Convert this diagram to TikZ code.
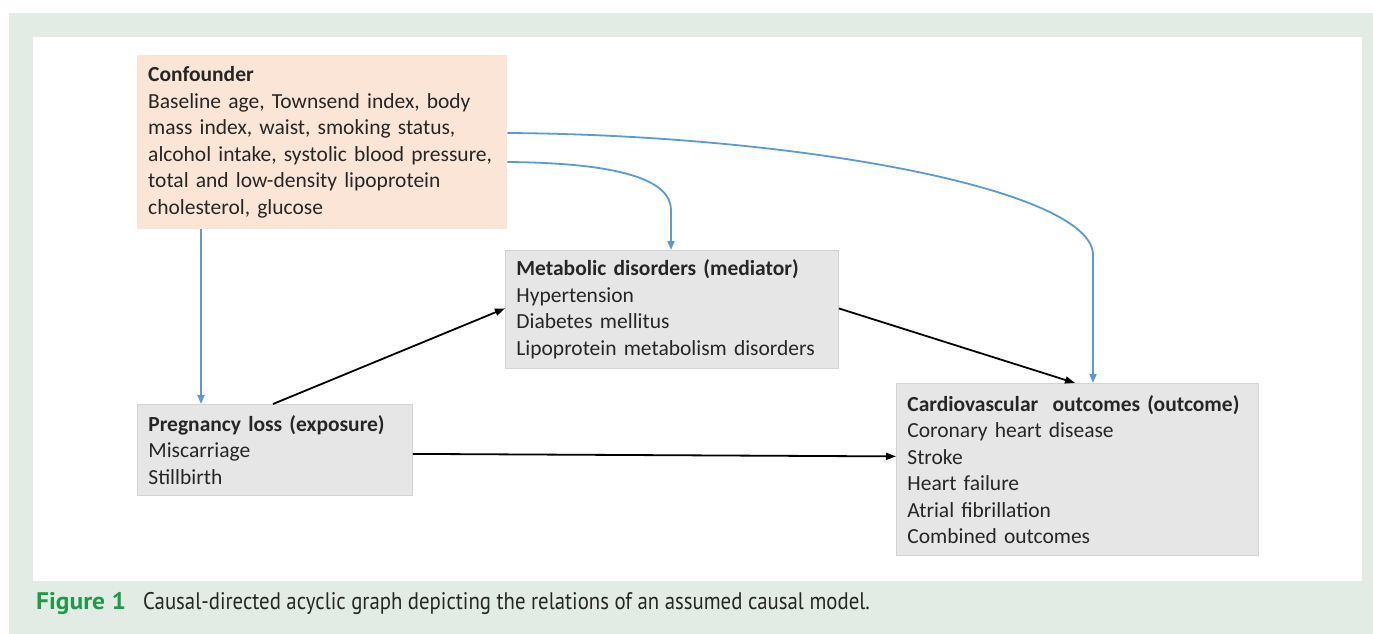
\documentclass[tikz,border=0pt]{standalone}
\usepackage{fontspec}
\setmainfont{Carlito}
\newfontfamily\capfont{PT Sans}
\usetikzlibrary{arrows.meta,calc,positioning}
\definecolor{outergreen}{HTML}{E2ECE4}
\definecolor{peach}{HTML}{FBE5D6}
\definecolor{boxgray}{HTML}{E6E6E6}
\definecolor{boxedge}{HTML}{D4D4D4}
\definecolor{arrblue}{HTML}{5B9BD5}
\definecolor{figgreen}{HTML}{1E9A4A}
\definecolor{txt}{HTML}{262626}
\tikzset{
  boxbase/.style={anchor=north west, inner xsep=11pt, inner ysep=0pt, align=left,
    font=\fontsize{21.5}{26.5}\selectfont, text=txt},
  confbox/.style={boxbase, fill=peach},
  graybox/.style={boxbase, fill=boxgray, draw=boxedge, line width=0.8pt},
  bluearr/.style={draw=arrblue, line width=1.8pt, -{Triangle[length=9pt,width=7pt]}},
  blackarr/.style={draw=black, line width=1.8pt, -{Triangle[length=10pt,width=7pt]}},
}
\begin{document}
\begin{tikzpicture}[x=1pt,y=-1pt]
\useasboundingbox (0,0) rectangle (1373,634);
\fill[outergreen] (9,13) rectangle (1373,634);
\fill[white] (33,37) rectangle (1362,581);

\node[confbox, text width=348pt, minimum height=174pt] (conf) at (137,55)
 {\textbf{Confounder}\\Baseline age, Townsend index, body\\mass index, waist, smoking status,\\alcohol intake, systolic blood pressure,\\total and low-density lipoprotein\\cholesterol, glucose};
\node[graybox, text width=311pt, minimum height=118pt] (med) at (505,250)
 {\textbf{Metabolic disorders (mediator)}\\Hypertension\\Diabetes mellitus\\Lipoprotein metabolism disorders};
\node[graybox, text width=253pt, minimum height=91pt] (exp) at (137,404)
 {\textbf{Pregnancy loss (exposure)}\\Miscarriage\\Stillbirth};
\node[graybox, text width=340pt, minimum height=172pt] (out) at (896,383)
 {\textbf{Cardiovascular\ \ outcomes (outcome)}\\Coronary heart disease\\Stroke\\Heart failure\\Atrial fibrillation\\Combined outcomes};

% blue confounder arrows
\coordinate (c1) at ($(conf.south west)+(64,0)$);
\draw[bluearr] (c1) -- (c1 |- exp.north);
\coordinate (c2) at ($(conf.north east)+(0,107)$);
\coordinate (m2) at ($(med.north west)+(166,0)$);
\draw[bluearr] (c2) .. controls ($(c2)+(113,1)$) and ($(m2)+(0,-70)$) .. ($(m2)+(0,-40)$) -- (m2);
\coordinate (c3) at ($(conf.north east)+(0,78)$);
\coordinate (o3) at ($(out.north west)+(197,0)$);
\draw[bluearr] (c3) .. controls ($(c3)+(293,2)$) and ($(o3)+(0,-193)$) .. ($(o3)+(0,-128)$) -- (o3);

% black causal arrows
\draw[blackarr] ($(exp.north west)+(136,0)$) -- ($(med.west)+(0,-1)$);
\draw[blackarr] ($(med.east)+(0,-1)$) -- ($(out.north west)+(179,0)$);
\draw[blackarr] ($(exp.east)+(0,4)$) -- ($(out.west)+(0,-13)$);

% caption
\node[anchor=base west, inner sep=0pt, text=figgreen, font=\capfont\bfseries\fontsize{24}{28}\selectfont] (figlab) at (36,609) {\scalebox{1.06}[1]{Figure 1}};
\node[anchor=base west, inner sep=0pt, text=txt, font=\capfont\fontsize{24}{28}\selectfont] (cap) at (143,609) {\scalebox{0.866}[1]{Causal-directed acyclic graph depicting the relations of an assumed causal model.}};
\end{tikzpicture}
\end{document}
